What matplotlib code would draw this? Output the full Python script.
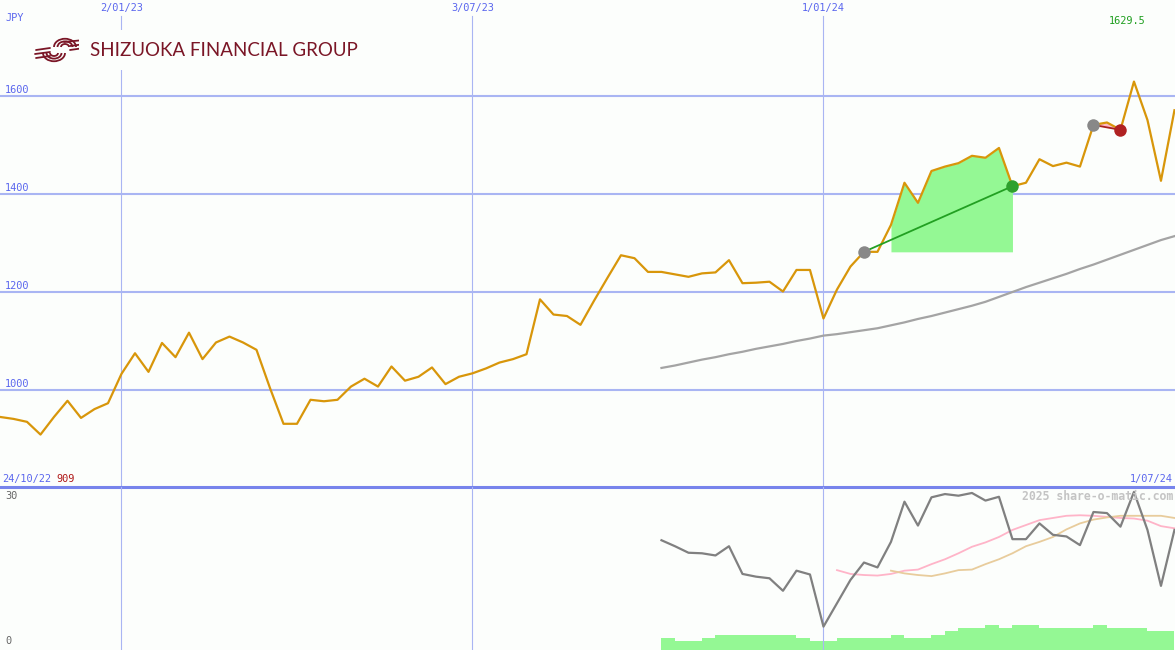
"""Shizuoka Financial Group weekly share price chart (share-o-matic style)."""

import matplotlib

matplotlib.use("Agg")
import matplotlib.pyplot as plt
from matplotlib.lines import Line2D
from matplotlib.patches import Arc

# weekly closes, first week 31/10/22, last week 1/07/24
price = [
    945, 941, 935, 909, 945, 978, 943, 961, 973, 1033,
    1075, 1037, 1096, 1067, 1117, 1063, 1097, 1109, 1097, 1082,
    1004, 931, 931, 980, 977, 980, 1007, 1023, 1007, 1048,
    1019, 1027, 1046, 1012, 1027, 1034, 1044, 1056, 1063, 1073,
    1185, 1154, 1151, 1133, 1182, 1229, 1275, 1269, 1241, 1241,
    1236, 1231, 1238, 1240, 1265, 1218, 1219, 1221, 1201, 1245,
    1245, 1146, 1205, 1252, 1282, 1282, 1337, 1423, 1382, 1447,
    1456, 1463, 1478, 1474, 1494, 1416, 1423, 1471, 1457, 1464,
    1456, 1541, 1546, 1531, 1629.5, 1551, 1427, 1571,
]

# long moving average, from week 49
ma_start = 49
ma_long = [
    1045, 1050, 1056, 1062, 1067, 1073, 1078, 1084, 1089, 1094,
    1100, 1105, 1111, 1114, 1118, 1122, 1126, 1132, 1138, 1145,
    1151, 1158, 1165, 1172, 1180, 1190, 1200, 1210, 1219, 1228,
    1237, 1247, 1256, 1266, 1276, 1286, 1296, 1306, 1314,
]

# lower panel indicator (0-30), from week 49
ind_start = 49
indicator = [
    20.2, 19.1, 17.9, 17.8, 17.4, 19.1, 14.0, 13.5, 13.2, 10.9,
    14.6, 13.9, 4.3, 8.6, 12.9, 16.1, 15.2, 19.9, 27.3, 22.9,
    28.1, 28.7, 28.4, 28.9, 27.5, 28.2, 20.4, 20.4, 23.3, 21.2,
    20.9, 19.3, 25.4, 25.2, 22.7, 29.1, 22.1, 11.8, 22.1,
]
fast_start = 62
ind_fast = [
    14.7, 14.0, 13.8, 13.7, 14.0, 14.6, 14.8, 15.8, 16.7, 17.8,
    19.0, 19.8, 20.8, 22.1, 23.0, 23.9, 24.3, 24.7, 24.8, 24.7,
    24.5, 24.3, 24.2, 23.8, 22.8, 22.4,
]
slow_start = 66
ind_slow = [
    14.6, 14.1, 13.8, 13.6, 14.1, 14.7, 14.8, 15.8, 16.7, 17.8,
    19.1, 19.9, 20.8, 22.2, 23.3, 24.0, 24.4, 24.7, 24.7, 24.7,
    24.7, 24.3,
]

# relative weekly volume, from week 49
vol_start = 49
volume = [
    11.7, 9, 9, 11.7, 15, 15, 15, 15, 15, 15,
    11.7, 9, 9, 11.7, 11.7, 11.7, 11.7, 15, 11.7, 11.7,
    15, 19, 22.3, 22.3, 25, 22.3, 25, 25, 22.3, 22.3,
    22.3, 22.3, 25, 22.3, 22.3, 22.3, 19, 19,
]

# signals: (start week, end week)
buy_signal = (64, 75)
sell_signal = (81, 83)

date_ticks = [9, 35, 61]
date_labels = ["2/01/23", "3/07/23", "1/01/24"]
price_grid = [1000, 1200, 1400, 1600]

W, H = 1175, 650
BG = "#fcfefc"
BLUE = "#5a66ee"
GRID = "#a9b5f3"
LOGO = "#7a1626"
MONO = "DejaVu Sans Mono"


def fpos(x, y):
    return x / W, 1 - y / H


fig = plt.figure(figsize=(W / 100, H / 100), dpi=100)
fig.patch.set_facecolor(BG)

ax = fig.add_axes([0, 163 / H, 1, 487 / H])
axl = fig.add_axes([0, 0, 1, 163 / H])
axv = axl.twinx()
for a in (ax, axl, axv):
    a.set_facecolor("none")
    a.set_axis_off()
    a.set_xlim(0, 87.04)

ax.set_ylim(802, 1796)
axl.set_ylim(0, 30)
axv.set_ylim(0, 163)
axl.set_zorder(2)
axv.set_zorder(1)

# grid
for v in price_grid:
    ax.axhline(v, color=GRID, lw=1.5, zorder=1)
for t in date_ticks:
    ax.axvline(t, ymax=1 - 16 / 487, color=GRID, lw=0.8, zorder=1)
    axl.axvline(t, color=GRID, lw=0.8, zorder=1)

weeks = list(range(len(price)))

# buy signal shading
b0, b1 = buy_signal
ax.fill_between(weeks[b0 + 2:b1 + 1], price[b0 + 2:b1 + 1], price[b0],
                color="#94f894", lw=0, zorder=2)
s0, s1 = sell_signal
ax.fill_between(weeks[s0:s1 + 1], price[s0:s1 + 1],
                [price[s0], (price[s0] + price[s1]) / 2, price[s1]],
                color="#ffb8c8", lw=0, zorder=2)

ma_x = list(range(ma_start, ma_start + len(ma_long)))
ax.plot(ma_x, ma_long, color="#a4a4a4", lw=1.6, zorder=3)
ax.plot(weeks, price, color="#d8960a", lw=1.6, zorder=4)

ax.plot([b0, b1], [price[b0], price[b1]], color="#22a022", lw=1.3, zorder=5)
ax.plot([s0, s1], [price[s0], price[s1]], color="#a82020", lw=1.3, zorder=5)
ax.plot([b0], [price[b0]], "o", ms=9, color="#888888", mec="none", zorder=6)
ax.plot([b1], [price[b1]], "o", ms=9, color="#2ea02e", mec="none", zorder=6)
ax.plot([s0], [price[s0]], "o", ms=9, color="#888888", mec="none", zorder=6)
ax.plot([s1], [price[s1]], "o", ms=9, color="#b02222", mec="none", zorder=6)

# lower panel
vol_x = list(range(vol_start, vol_start + len(volume)))
axv.bar(vol_x, volume, width=1.0, align="edge", color="#94f894", lw=0)
axl.plot(list(range(fast_start, fast_start + len(ind_fast))), ind_fast,
         color="#ffb4c8", lw=1.3, zorder=3)
axl.plot(list(range(slow_start, slow_start + len(ind_slow))), ind_slow,
         color="#e8cc9c", lw=1.3, zorder=3)
axl.plot(list(range(ind_start, ind_start + len(indicator))), indicator,
         color="#808080", lw=1.6, zorder=4)

fig.add_artist(Line2D([0, 1], [1 - 487 / H] * 2, color="#7784ec", lw=2.2))

# labels
txt = dict(fontsize=7.4, family=MONO, va="center")
fig.text(*fpos(5, 18), "JPY", color=BLUE, ha="left", **txt)
for v in price_grid:
    y = 390 - (v - 1000) * 98 / 200 - 6
    fig.text(*fpos(5, y), str(v), color=BLUE, ha="left", **txt)
for t, lab in zip(date_ticks, date_labels):
    fig.text(*fpos(t * 13.5, 8), lab, color=BLUE, ha="center", **txt)
fig.text(*fpos(1127, 21), "1629.5", color="#1e9e1e", ha="center", **txt)
fig.text(*fpos(2, 479), "24/10/22", color=BLUE, ha="left", **txt)
fig.text(*fpos(56, 479), "909", color="#b01818", ha="left", **txt)
fig.text(*fpos(1173, 479), "1/07/24", color=BLUE, ha="right", **txt)
fig.text(*fpos(5, 496), "30", color="#666666", ha="left", **txt)
fig.text(*fpos(5, 641), "0", color="#666666", ha="left", **txt)
fig.text(*fpos(1173, 496), "2025 share-o-matic.com", color="#c4c4c4",
         ha="right", va="center", fontsize=8.3, family=MONO, weight="bold")

# logo
fig.text(*fpos(90, 50), "SHIZUOKA FINANCIAL GROUP", color=LOGO,
         ha="left", va="center", fontsize=13.5, family="Lato",
         bbox=dict(boxstyle="square,pad=0.6", fc=BG, ec="none"))
logo = fig.add_axes([34 / W, 1 - 67 / H, 52 / W, 34 / H])
logo.set_axis_off()
logo.set_xlim(0, 52)
logo.set_ylim(34, 0)
# right swirl (upper) and left swirl (lower)
for w in (22, 15, 8):
    logo.add_patch(Arc((31, 14), w, w * 0.75, theta1=180, theta2=360,
                       color=LOGO, lw=1.3))
    logo.add_patch(Arc((20, 20), w, w * 0.75, theta1=0, theta2=180,
                       color=LOGO, lw=1.3))
for y0, x0, x1 in [(9, 30, 50), (13, 36, 51), (17, 36, 50),
                   (17, 2, 16), (21, 1, 16), (25, 2, 16)]:
    logo.plot([x0, x1], [y0, y0 - 2], color=LOGO, lw=1.3,
              solid_capstyle="round")

fig.savefig("out.png", dpi=100, facecolor=BG)
